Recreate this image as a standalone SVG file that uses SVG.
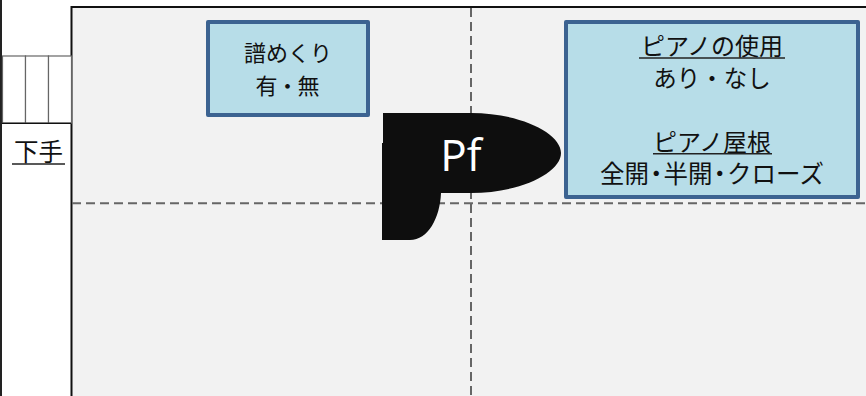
<svg xmlns="http://www.w3.org/2000/svg" width="866" height="396" viewBox="0 0 866 396">
<style>
.t{font-family:"Noto Sans CJK JP","Noto Sans",sans-serif;font-size:24px;fill:#111;text-anchor:middle}
.s{font-size:22px}
.w{font-size:24.500px}
.box{fill:#b7dde8;stroke:#3c6391;stroke-width:4;stroke-linejoin:round}
.dash{fill:none;stroke:#666;stroke-width:2;stroke-dasharray:9 5}
.u{fill:none;stroke:#222;stroke-width:1.400}
</style>
<rect width="866" height="396" fill="#fff"/>
<g id="stage"><rect x="71.500" y="7" width="800" height="395" fill="#f2f2f2" stroke="#111" stroke-width="2"/></g>
<path d="M1 0V396" stroke="#222" stroke-width="2" fill="none"/>
<g id="steps" fill="#fff" stroke="#666" stroke-width="1.200">
<rect x="2.500" y="56" width="23" height="67"/><rect x="25.500" y="56" width="23" height="67"/><rect x="48.500" y="56" width="23" height="67"/>
<path d="M2 123.300H71" stroke="#111"/></g>
<g id="connectors">
<path class="dash" d="M72 203.300H866"/>
<path class="dash" d="M471 8V396"/>
</g>
<g id="shimote"><text class="t w" x="38.500" y="161">下手</text><path class="u" d="M12 164H65"/></g>
<g id="page-turner"><rect class="box" x="208" y="22" width="160" height="93"/>
<text class="t s" x="288" y="61">譜めくり</text><text class="t s" x="287.500" y="94" dx="0 -1 -1">有・無</text></g>
<g id="piano"><path d="M383 113H471C520 113 561 133 561 153C561 173 520 193 471 193H441C440 218 428 240 410 240H382V143H383Z" fill="#0e0e0e"/>
<text x="461" y="171" font-family="Open Sans,Noto Sans,sans-serif" font-size="44" fill="#fff" text-anchor="middle">Pf</text></g>
<g id="piano-settings"><rect class="box" x="566" y="22" width="292" height="175"/>
<text class="t" x="712" y="55">ピアノの使用</text><path class="u" d="M639 58H785"/>
<text class="t" x="712" y="87" style="font-size:23.500px">あり・なし</text>
<text class="t" x="712" y="151">ピアノ屋根</text><path class="u" d="M653 153.800H772"/>
<text class="t w" x="712" y="183" dx="0 0 -5 -5 0 -5 -5">全開・半開・クローズ</text></g>
</svg>
